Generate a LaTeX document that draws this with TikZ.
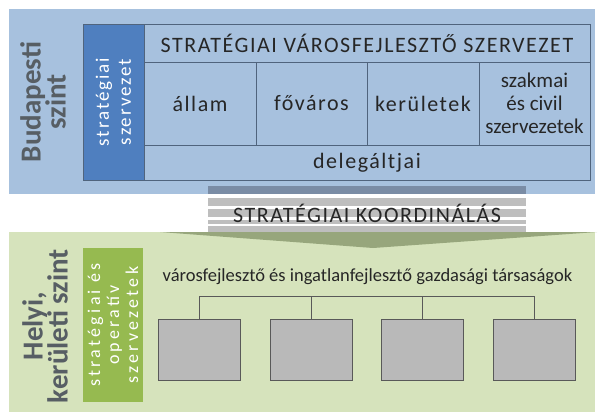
\documentclass[tikz,border=0pt]{standalone}
\usepackage{fontspec}
\setmainfont{Carlito}
\newfontfamily\tablefont[LetterSpace=7]{Carlito}
\newfontfamily\bluefont[LetterSpace=10]{Carlito}
\newfontfamily\greenfont[LetterSpace=18]{Carlito}
\definecolor{bluebg}{HTML}{A7C1DE}
\definecolor{tableline}{HTML}{50647D}
\definecolor{darkblue}{HTML}{4F7FBF}
\definecolor{coordbar}{HTML}{7A8CA5}
\definecolor{stripe}{HTML}{BEBEBE}
\definecolor{greenbg}{HTML}{D6E3BC}
\definecolor{greenbox}{HTML}{96BA50}
\definecolor{wedgegreen}{HTML}{97A67C}
\definecolor{boxgray}{HTML}{B9B9B9}
\definecolor{levelgray}{HTML}{575E64}
\begin{document}
\begin{tikzpicture}[x=1pt, y=-1pt,
    cell/.style={rectangle, draw=tableline, fill=bluebg, line width=0.8pt, inner sep=0pt, outer sep=0pt, align=center, text=black!85, font=\tablefont\fontsize{22}{23}\selectfont},
    level/.style={rotate=90, align=center, text=levelgray, font=\bfseries\fontsize{29}{25}\selectfont},
    company/.style={rectangle, draw=black!65, fill=boxgray, line width=0.8pt, minimum width=82pt, minimum height=61pt, inner sep=0pt},
    tree/.style={draw=black!65, line width=0.8pt}
]
\useasboundingbox (0,0) rectangle (600,412);
% backgrounds
\fill[bluebg] (9,9) rectangle (595,194);
\fill[greenbg] (9,232) rectangle (595,412);
\fill[wedgegreen] (160,232) -- (597,232) -- (373,248) -- cycle;

% Budapest level
\node[level] (budapest) at (43,102) {Budapesti\\szint};
\node[rectangle, draw=tableline, fill=darkblue, line width=0.8pt, minimum width=61pt, minimum height=156pt, inner sep=0pt] (strat) at (113.5,102) {};
\node[rotate=90, align=center, text=white, font=\bluefont\fontsize{19}{22}\selectfont] at (strat.center) {stratégiai\\szervezet};

\node[cell, minimum width=446pt, minimum height=38pt] (head) at (367,43) {STRATÉGIAI VÁROSFEJLESZTŐ SZERVEZET};
\node[cell, minimum width=112pt, minimum height=83pt] (allam) at (200,103.5) {állam};
\node[cell, minimum width=111pt, minimum height=83pt] (fovaros) at (311.5,103.5) {főváros};
\node[cell, minimum width=112pt, minimum height=83pt] (ker) at (423,103.5) {kerületek};
\node[cell, minimum width=111pt, minimum height=83pt, font=\fontsize{21}{23}\selectfont] (civil) at (534.5,103.5) {szakmai\\és civil\\szervezetek};
\node[cell, minimum width=446pt, minimum height=35pt] (deleg) at (367,162.5) {delegáltjai};

% coordination band
\fill[coordbar] (208,186) rectangle (526,194);
\foreach \ya/\yb in {198/206, 209/217, 220/223.5, 226/232}
    \fill[stripe] (208,\ya) rectangle (526,\yb);
\node[text=black!85, font=\tablefont\fontsize{22}{23}\selectfont] (koord) at (367,213.5) {STRATÉGIAI KOORDINÁLÁS};

% local level
\node[level] (helyi) at (45,326) {Helyi,\\kerületi szint};
\node[rectangle, fill=greenbox, minimum width=60pt, minimum height=154pt, inner sep=0pt] (oper) at (113,325) {};
\node[rotate=90, align=center, text=white, font=\greenfont\fontsize{18}{19}\selectfont] at (oper.center) {stratégiai és\\operatív\\szervezetek};

\node[text=black!85, font=\fontsize{18.5}{22}\selectfont] (tars) at (367.5,277) {városfejlesztő és ingatlanfejlesztő gazdasági társaságok};

\node[company] (c1) at (199,349.5) {};
\node[company] (c2) at (311,349.5) {};
\node[company] (c3) at (422.5,349.5) {};
\node[company] (c4) at (534,349.5) {};

\draw[tree] (c1.north) -- ++(0,-22) coordinate (bus) -| (c4.north);
\draw[tree] (c2.north) -- (c2.north |- bus);
\draw[tree] (c3.north) -- (c3.north |- bus);
\end{tikzpicture}
\end{document}
